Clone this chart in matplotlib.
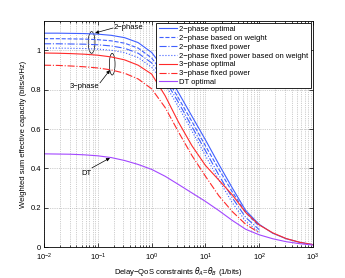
import matplotlib
matplotlib.use('Agg')
import matplotlib.pyplot as plt
from matplotlib.patches import Ellipse
from matplotlib.ticker import LogLocator, NullFormatter

plt.rcParams['font.family'] = ['Liberation Sans', 'DejaVu Sans']
plt.rcParams['font.size'] = 5.5

# delay-QoS exponent (1/bits)
theta = [1e-2, 1.78e-2, 3.16e-2, 5.62e-2, 1e-1, 0.178, 0.316, 0.562, 1.0, 1.78, 3.16,
         5.62, 10.0, 17.8, 31.6, 56.2, 100.0, 178.0, 316.0, 562.0, 1000.0]

# weighted sum effective capacity (bits/s/Hz)
opt_2p = [1.088, 1.088, 1.087, 1.086, 1.083, 1.077, 1.065, 1.04, 0.99, 0.9, 0.785,
          0.665, 0.545, 0.42, 0.30, 0.185, 0.115, 0.07, 0.042, 0.024, 0.012]
weight_2p = [1.060, 1.060, 1.059, 1.058, 1.055, 1.049, 1.037, 1.012, 0.962, 0.872, 0.757,
             0.638, 0.515, 0.395, 0.28, 0.175, 0.105]
fixed_2p = [1.034, 1.034, 1.033, 1.032, 1.029, 1.023, 1.011, 0.986, 0.937, 0.85, 0.735,
            0.612, 0.49, 0.365, 0.25, 0.15, 0.088]
fixed_w_2p = [1.012, 1.012, 1.011, 1.010, 1.007, 1.001, 0.989, 0.964, 0.915, 0.828, 0.712,
              0.59, 0.465, 0.34, 0.225, 0.13, 0.076]
opt_3p = [0.987, 0.986, 0.984, 0.981, 0.976, 0.967, 0.952, 0.925, 0.88, 0.77, 0.635,
          0.515, 0.415, 0.34, 0.265, 0.175, 0.112, 0.072, 0.043, 0.024, 0.012]
fixed_3p = [0.925, 0.924, 0.921, 0.917, 0.911, 0.901, 0.884, 0.855, 0.805, 0.71, 0.585,
            0.465, 0.36, 0.26, 0.18, 0.115, 0.072]
opt_dt = [0.474, 0.473, 0.472, 0.469, 0.464, 0.455, 0.44, 0.42, 0.395, 0.36, 0.318,
          0.275, 0.232, 0.185, 0.135, 0.09, 0.062, 0.042, 0.027, 0.017, 0.01]

blue = '#3f5fff'
red = '#ff2a2a'
purple = '#a347ff'

fig = plt.figure(figsize=(3.45, 2.78), dpi=100)
ax = fig.add_axes([0.1275, 0.1115, 0.78, 0.813])

lw = 0.8
n = len(weight_2p)
ax.plot(theta, opt_2p, '-', color=blue, lw=lw, label='2\u2212phase optimal')
ax.plot(theta[:n], weight_2p, '--', color=blue, lw=lw, label='2\u2212phase based on weight')
ax.plot(theta[:n], fixed_2p, '-.', color=blue, lw=lw, label='2\u2212phase fixed power')
ax.plot(theta[:n], fixed_w_2p, ':', color=blue, lw=lw,
        label='2\u2212phase fixed power based on weight')
ax.plot(theta, opt_3p, '-', color=red, lw=lw, label='3\u2212phase optimal')
ax.plot(theta[:n], fixed_3p, '-.', color=red, lw=lw, label='3\u2212phase fixed power')
ax.plot(theta, opt_dt, '-', color=purple, lw=lw, label='DT optimal')

ax.set_xscale('log')
ax.set_xlim(1e-2, 1e3)
ax.set_ylim(0, 1.15)
ax.set_yticks([0, 0.2, 0.4, 0.6, 0.8, 1.0])
ax.set_yticklabels(['0', '0.2', '0.4', '0.6', '0.8', '1'])
ax.xaxis.set_minor_locator(LogLocator(base=10, subs=range(2, 10), numticks=20))
ax.xaxis.set_minor_formatter(NullFormatter())

ax.grid(True, which='major', linestyle=':', color='#a0a0a0', lw=0.5)
ax.grid(True, which='minor', axis='x', linestyle=':', color='#a0a0a0', lw=0.5)
ax.tick_params(which='both', direction='in', top=True, right=True, labelsize=5.5)
ax.tick_params(axis='y', pad=2)
ax.tick_params(axis='x', pad=3.5)
ax.tick_params(which='major', length=3, width=0.5)
ax.tick_params(which='minor', length=1.5, width=0.5)
for s in ax.spines.values():
    s.set_linewidth(0.6)

ax.set_xlabel('Delay\u2212QoS constraints $\\theta_A$=$\\theta_B$ (1/bits)', fontsize=5.5, labelpad=1)
ax.set_ylabel('Weighted sum effective capacity (bits/s/Hz)', fontsize=5.5, labelpad=3)

leg = ax.legend(loc='upper right', fontsize=5.5, fancybox=False, edgecolor='k',
                framealpha=1, handlelength=2.4, handletextpad=0.3, borderpad=0.3,
                labelspacing=0.2, borderaxespad=0.3)
leg.get_frame().set_linewidth(0.6)

# group markers
ax.add_patch(Ellipse((0.177, 0.905), 0.025, 0.096, transform=ax.transAxes,
                     fill=False, ec='k', lw=0.5))
ax.add_patch(Ellipse((0.2535, 0.809), 0.021, 0.096, transform=ax.transAxes,
                     fill=False, ec='k', lw=0.5))

arrow = dict(arrowstyle='-|>', color='k', lw=0.5, mutation_scale=5, shrinkA=0, shrinkB=0)
ax.annotate('', xy=(0.19, 0.947), xytext=(0.257, 0.969), xycoords='axes fraction',
            arrowprops=arrow)
ax.text(0.257, 0.969, '2\u2212phase', transform=ax.transAxes, ha='left', va='center')
ax.annotate('', xy=(0.245, 0.783), xytext=(0.208, 0.726), xycoords='axes fraction',
            arrowprops=arrow)
ax.text(0.149, 0.708, '3\u2212phase', transform=ax.transAxes, ha='center', va='center')
ax.annotate('', xy=(0.245, 0.394), xytext=(0.178, 0.35), xycoords='axes fraction',
            arrowprops=arrow)
ax.text(0.156, 0.327, 'DT', transform=ax.transAxes, ha='center', va='center')

fig.savefig('out.png', dpi=100)
